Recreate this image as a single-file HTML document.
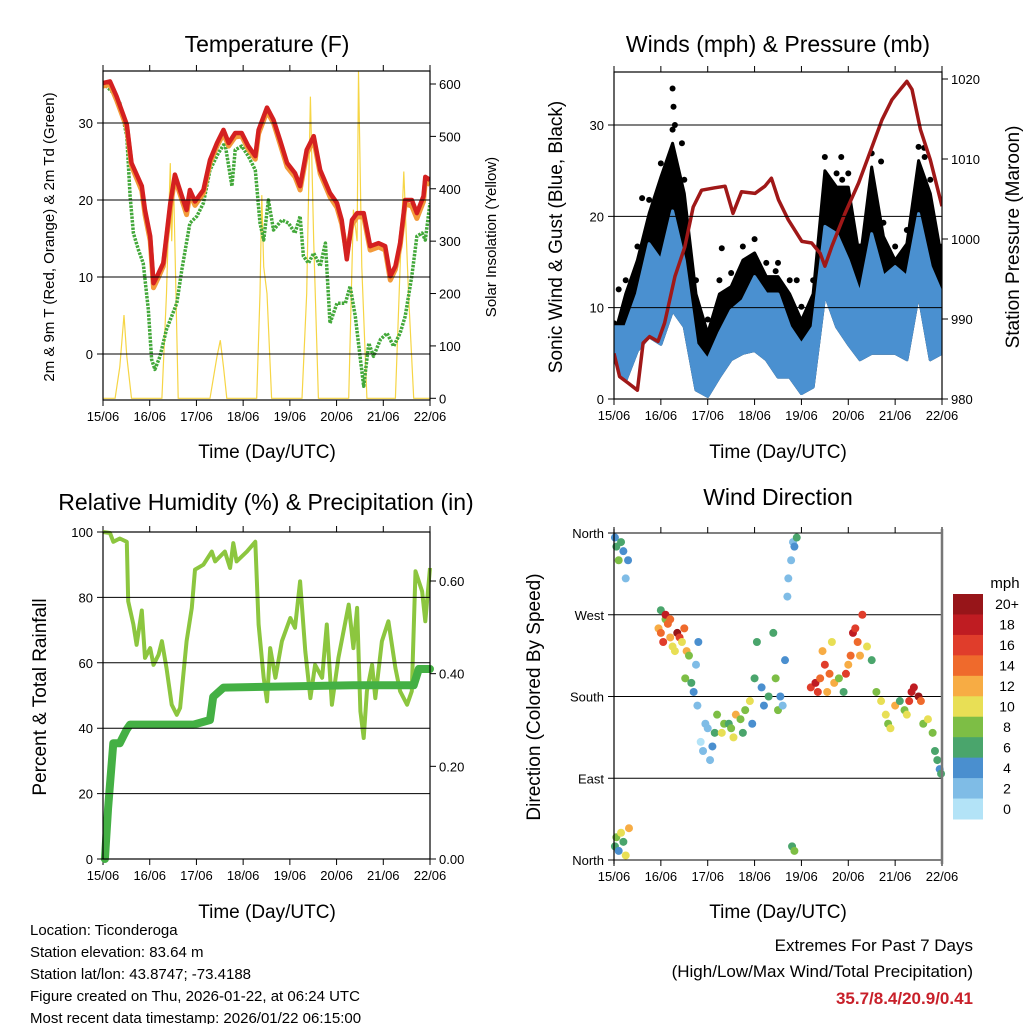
<!DOCTYPE html>
<html><head><meta charset="utf-8">
<style>
html,body{margin:0;padding:0;background:#fff;}
svg{display:block;font-family:"Liberation Sans",sans-serif;}
</style></head>
<body>
<svg id="fig" width="1024" height="1024" viewBox="0 0 1024 1024">
<rect width="1024" height="1024" fill="#fff"/>
<g id="layer"></g>
<text x="267" y="52" font-size="23" text-anchor="middle">Temperature (F)</text>
<text x="778" y="52" font-size="23" text-anchor="middle">Winds (mph) &amp; Pressure (mb)</text>
<text x="266" y="510" font-size="23" text-anchor="middle">Relative Humidity (%) &amp; Precipitation (in)</text>
<text x="778" y="505" font-size="23" text-anchor="middle">Wind Direction</text>
<text x="267" y="458" font-size="19" text-anchor="middle">Time (Day/UTC)</text>
<text x="778" y="458" font-size="19" text-anchor="middle">Time (Day/UTC)</text>
<text x="267" y="918" font-size="19" text-anchor="middle">Time (Day/UTC)</text>
<text x="778" y="918" font-size="19" text-anchor="middle">Time (Day/UTC)</text>
<text transform="translate(54,237) rotate(-90)" font-size="15" text-anchor="middle">2m &amp; 9m T (Red, Orange) &amp; 2m Td (Green)</text>
<text transform="translate(496,237) rotate(-90)" font-size="15" text-anchor="middle">Solar Insolation (Yellow)</text>
<text transform="translate(562,237) rotate(-90)" font-size="19" text-anchor="middle">Sonic Wind &amp; Gust (Blue, Black)</text>
<text transform="translate(1019,237) rotate(-90)" font-size="19" text-anchor="middle">Station Pressure (Maroon)</text>
<text transform="translate(46,697) rotate(-90)" font-size="19" text-anchor="middle">Percent &amp; Total Rainfall</text>
<text transform="translate(540,697) rotate(-90)" font-size="19" text-anchor="middle">Direction (Colored By Speed)</text>
<g font-size="15">
<text x="30" y="935">Location: Ticonderoga</text>
<text x="30" y="957">Station elevation: 83.64 m</text>
<text x="30" y="979">Station lat/lon: 43.8747; -73.4188</text>
<text x="30" y="1001">Figure created on Thu, 2026-01-22, at 06:24 UTC</text>
<text x="30" y="1023">Most recent data timestamp: 2026/01/22 06:15:00</text>
</g>
<g font-size="17" text-anchor="end">
<text x="973" y="951">Extremes For Past 7 Days</text>
<text x="973" y="977">(High/Low/Max Wind/Total Precipitation)</text>
<text x="973" y="1004" fill="#c8202a" font-weight="bold">35.7/8.4/20.9/0.41</text>
</g>
<text x="1005" y="588" font-size="15" text-anchor="middle">mph</text>
</svg>
<script>
// ---- data ----
const dayLabels=["15/06","16/06","17/06","18/06","19/06","20/06","21/06","22/06"];
const tempTimes=[0,.15,.29,.51,.61,.83,.9,1.01,1.08,1.19,1.29,1.44,1.54,1.69,1.79,1.86,1.97,2.15,2.29,2.44,2.58,2.69,2.83,2.97,3.11,3.26,3.33,3.51,3.65,3.79,3.94,4.11,4.22,4.36,4.51,4.65,4.86,5.01,5.11,5.22,5.33,5.44,5.58,5.72,5.9,6.04,6.15,6.26,6.36,6.47,6.61,6.72,6.86,6.9,7.0];
const temp2m=[35.2,35.4,33.5,29.8,24.8,21.8,18.7,15.3,9.2,10.5,11.8,19.6,23.3,20.5,18.7,21.3,19.8,21.3,25.2,27.4,29.1,27.4,28.7,28.7,27,25.7,29.1,32,30.4,27.8,24.8,23.5,21.8,26.5,28.3,23.9,20.9,19.6,17.4,12.3,17.4,18.3,18.3,14,14.4,14,10.1,11.4,14.4,20,20,18.3,20.5,23,22.6];
const temp9m=[34.8,35,33,29.4,24.4,21.2,18.1,14.7,8.6,10,11.4,19,22.8,20,18.1,20.8,19.3,20.9,24.8,27,28.6,27,28.2,28.3,26.6,25.3,28.6,31.5,30,27.3,24.3,23,21.3,26,27.8,23.4,20.4,19,16.9,13,16.8,17.8,17.8,13.5,13.9,13.5,9.6,11,14,19.5,19.2,17.6,19.8,22.4,22];
const dewTimes=[0,.22,.36,.51,.58,.65,.76,.86,.97,1.04,1.11,1.22,1.36,1.58,1.69,1.86,2.01,2.15,2.29,2.47,2.61,2.69,2.76,2.83,2.97,3.11,3.26,3.36,3.44,3.54,3.65,3.83,3.97,4.11,4.22,4.29,4.4,4.51,4.65,4.76,4.86,5.01,5.19,5.29,5.4,5.51,5.58,5.69,5.79,5.94,6.08,6.22,6.36,6.47,6.61,6.72,6.83,6.9,7.0];
const dewpt=[35.2,33.9,32.6,28.3,20.5,15.7,13.5,11.8,5.8,-0.7,-2,-0.3,3.2,6.6,11,17,17.9,19.6,23.9,26.1,27.4,24.4,21.8,26.5,27,25.7,23.9,17,14.8,20,16.1,17.4,17,15.7,17.9,12.7,11.8,13.1,11.4,14.4,4,6.6,6.6,8.8,4.9,-0.7,-4.2,1.4,-0.3,1.9,2.7,1,2.7,4.9,10.1,15.3,15.7,14.8,19.6];
const solarTimes=[0,.26,.36,.45,.51,.61,1.26,1.36,1.44,1.47,1.51,1.61,2.29,2.44,2.51,2.58,2.65,3.29,3.36,3.4,3.44,3.51,3.61,4.26,4.36,4.44,4.51,4.61,5.26,5.36,5.44,5.47,5.54,5.65,6.26,6.36,6.44,6.54,6.65,7.0];
const solar=[0,0,60,159,80,0,0,200,449,300,417,0,0,80,111,60,0,0,200,388,251,200,0,0,200,576,300,0,0,360,300,624,250,0,0,250,433,200,0,0];
const tempTicks=[0,10,20,30];
const solarTicks=[0,100,200,300,400,500,600];
const windTimes=[0,.25,.5,.75,1,1.25,1.5,1.75,2,2.25,2.5,2.75,3,3.25,3.5,3.75,4,4.25,4.5,4.75,5,5.25,5.5,5.75,6,6.25,6.5,6.75,7];
const windHigh=[7.9,7.9,11.5,17,15.2,20.6,15.2,6,4.3,7.2,9.7,10.8,13.4,11.5,11.5,7.9,6,7.9,18.9,18.1,15.2,11.5,18.1,13.4,14.5,13.4,20.3,14.5,11.5];
const windLow=[4.3,2,5.3,6.8,6,9.7,7.9,1,0.3,2.4,4.3,5,5.3,4.3,2.4,2.4,0.6,1.3,11.5,7.9,6,4.3,5,5,5,4.3,11.5,4.3,5];
const windGust=[6.8,11.5,15.2,20.3,24.3,28,22.5,11.5,7.2,11.5,12.3,15.2,16,13.4,13.4,11.5,8.6,11.5,25,23.2,23.2,15.2,25.4,17.8,15.2,17,26.1,22.5,15.2];
const gustPeakTimes=[1.25,1.27,1.3,1.1,1.45,0.6,4.85,4.87,5.7,6.62,6.63,6.66,2.3,2.95,3.45,0.1,3.9];
const gustPeaks=[34,32,30,25,28,22,26.5,24,26,27.5,26.5,23,16.5,14,14,12,13];
const pressTimes=[0,.12,.3,.5,.62,.76,.94,1.08,1.3,1.51,1.69,1.87,2.15,2.37,2.54,2.72,3.01,3.22,3.36,3.51,3.72,4.01,4.22,4.4,4.5,4.65,4.93,5.22,5.43,5.72,5.93,6.11,6.25,6.36,6.54,6.75,7.0];
const pressure=[985.7,982.8,982,981.1,987,987.8,987.2,989.5,995.3,999,1004,1006.1,1006.4,1006.6,1003.2,1005.9,1005.7,1006.6,1007.6,1004.9,1002.4,999.7,999.5,998.2,996.6,999.1,1003.2,1007,1010.3,1014.9,1017.4,1018.7,1019.7,1018.7,1013.7,1009.9,1004.1];
const windTicks=[0,10,20,30];
const pressTicks=[980,990,1000,1010,1020];
const rhTimes=[0,.15,.22,.36,.51,.54,.65,.72,.83,.9,1.01,1.08,1.19,1.26,1.36,1.47,1.58,1.65,1.79,1.9,1.97,2.15,2.33,2.4,2.61,2.72,2.79,2.86,3.08,3.26,3.33,3.44,3.51,3.58,3.69,3.83,4.01,4.11,4.22,4.33,4.44,4.54,4.69,4.79,4.9,5.04,5.26,5.36,5.44,5.51,5.58,5.65,5.76,5.83,5.97,6.11,6.26,6.36,6.51,6.61,6.69,6.83,6.9,7.0];
const rh=[100,99.7,97,98,97,78.8,71.7,65.5,76,61.5,64.5,59.4,62.5,66.6,58.4,47.2,44.1,46.2,66.6,76.8,88.5,90,94,91,94,89,96.6,91,94,97,71.7,55.4,48.2,64.5,55.4,66.6,73.7,70.7,84.9,63.5,49.2,59.4,55.4,71.7,47.2,61.5,77.8,64.5,76.8,45.2,37,51.3,59.4,49.2,66.6,72.7,58.4,51.3,47.2,51.3,88,81.9,72.7,89];
const precipTimes=[.04,.11,.22,.36,.51,.58,1.94,2.29,2.36,2.58,5.36,6.65,6.76,7.0];
const precipVals=[0,0.11,0.25,0.25,0.28,0.29,0.29,0.30,0.35,0.37,0.375,0.375,0.41,0.41];
const rhTicks=[0,20,40,60,80,100];
const precipTicks=[0,0.2,0.4,0.6];
const dirTicks=[0,90,180,270,360];
const dirNames=["North","East","South","West","North"];
const dirTimes=[0.02,0.05,0.1,0.15,0.2,0.25,0.3,0.02,0.05,0.1,0.15,0.2,0.25,0.32,0.95,1.0,1.05,1.1,1.15,1.2,1.25,1.3,1.0,1.1,1.2,1.35,1.4,1.45,1.5,1.55,1.6,1.52,1.65,1.7,1.75,1.8,1.78,1.85,1.9,1.95,2.0,2.05,2.1,2.15,2.2,2.3,2.35,2.45,2.5,2.55,2.6,2.7,2.75,2.8,2.9,2.95,3.0,3.05,3.15,3.2,3.3,3.4,3.45,3.5,3.55,3.6,3.65,3.7,3.72,3.78,3.82,3.85,3.9,3.8,3.85,4.2,4.3,4.35,4.4,4.45,4.5,4.55,4.6,4.65,4.7,4.8,4.9,4.95,5.0,5.05,5.1,5.15,5.2,5.25,5.3,5.4,5.5,5.6,5.7,5.8,5.85,5.9,6.0,6.1,6.2,6.25,6.3,6.35,6.4,6.5,6.55,6.6,6.7,6.8,6.85,6.9,6.95,6.98];
const dirValues=[355,345,330,350,340,310,330,15,25,10,30,20,5,35,255,250,240,265,260,245,235,230,275,270,265,250,245,240,255,230,225,200,195,185,215,240,170,130,120,150,145,110,125,140,160,140,150,150,145,135,160,155,140,165,175,150,200,240,190,170,180,250,200,165,180,170,220,290,310,330,350,345,355,15,10,190,195,185,200,230,215,185,205,240,195,200,185,205,215,225,250,255,240,225,270,235,220,185,175,160,150,145,170,175,165,160,175,185,190,180,175,150,155,140,120,110,100,95,85];
const dirSpeeds=[4,6,8,5,3,2,4,6,8,4,10,6,9,12,12,14,16,8,13,11,9,10,6,18,14,19,16,10,14,12,8,7,6,4,2,3,1,0,2,2,1,2,4,6,8,10,8,6,8,9,12,7,6,8,9,4,5,6,3,4,5,6,7,8,4,2,4,2,2,2,2,3,6,6,8,16,18,15,14,12,16,12,13,10,11,8,6,15,12,14,17,16,13,12,16,10,6,8,9,10,8,10,12,6,8,10,16,18,17,19,14,8,9,8,6,5,4,6,4];
const speedBins=["0","2","4","6","8","10","12","14","16","18","20+"];
const speedColors=["#b3e3f7","#7fbce6","#4a8fcf","#4aa56c","#7dbe45","#e8df55","#f7ac44","#ef6a2c","#e03d2b","#bf1c22","#971519"];

// ---- helpers ----
const NS="http://www.w3.org/2000/svg";
const layer=document.getElementById('layer');
function add(tag,attrs,parent){const e=document.createElementNS(NS,tag);for(const k in attrs)e.setAttribute(k,attrs[k]);(parent||layer).appendChild(e);return e;}
function lin(d0,d1,r0,r1){return v=>r0+(v-d0)*(r1-r0)/(d1-d0);}
function pts(xs,ys,fx,fy){return xs.map((x,i)=>fx(x).toFixed(1)+','+fy(ys[i]).toFixed(1)).join(' ');}

const panels=[
 {id:'temp',x0:103,x1:430,y0:71,y1:400},
 {id:'wind',x0:614,x1:942,y0:72,y1:399},
 {id:'rh',x0:103,x1:430,y0:532,y1:859},
 {id:'dir',x0:614,x1:942,y0:533,y1:860}
];
function frame(p){
 const g=add('g',{});
 
 
 const fx=lin(0,7,p.x0,p.x1);
 dayLabels.forEach((lab,i)=>{
  const t=add('text',{x:fx(i),y:p.y1+21,'font-size':13,'text-anchor':'middle'},g);
  t.textContent=lab;
  
  
  const tk=add('line',{x1:fx(i),x2:fx(i),y1:p.y1,y2:p.y1+6,stroke:'#000','stroke-width':1},g);
  
  
  const tt=add('line',{x1:fx(i),x2:fx(i),y1:p.y0,y2:p.y0-6,stroke:'#000','stroke-width':1},g);
  
  
 });
 return fx;
}
function border(p){
 const r=add('rect',{x:p.x0,y:p.y0,width:p.x1-p.x0,height:p.y1-p.y0,fill:'none',stroke:'#000','stroke-width':1.2});
 
 
}
function leftAxis(p,ticks,fy,labels){
 ticks.forEach((v,i)=>{
  const gl=add('line',{x1:p.x0-6,x2:p.x1,y1:fy(v),y2:fy(v),stroke:'#000','stroke-width':1});
  
  
  const t=add('text',{x:p.x0-10,y:fy(v)+5,'font-size':13,'text-anchor':'end'});
  t.textContent=labels?labels[i]:v;
  
  
 });
}
function rightAxis(p,ticks,fy,fmt){
 ticks.forEach(v=>{
  const tk=add('line',{x1:p.x1,x2:p.x1+6,y1:fy(v),y2:fy(v),stroke:'#000','stroke-width':1});
  
  
  const t=add('text',{x:p.x1+9,y:fy(v)+5,'font-size':13});
  t.textContent=fmt?fmt(v):v;
  
  
 });
}

// ---- Panel 1: temperature ----
(function(){
 const p=panels[0];
 const fx=frame(p);
 const fy=lin(0,30,354,123);
 const fs=lin(0,600,398.3,84);
 const clip=add('clipPath',{id:'c1'});add('rect',{x:p.x0,y:p.y0,width:p.x1-p.x0,height:p.y1-p.y0},clip);
 const g=add('g',{'clip-path':'url(#c1)'});
 
 
 const s=add('polyline',{points:pts(solarTimes,solar,fx,fs),fill:'none',stroke:'#f6d545','stroke-width':1.2},g);
 
 
 const d=add('polyline',{points:pts(dewTimes,dewpt,fx,fy),fill:'none',stroke:'#43a83a','stroke-width':3.5,'stroke-dasharray':'2.5 1.2','stroke-linejoin':'round'},g);
 
 
 const o=add('polyline',{points:pts(tempTimes,temp9m,fx,fy),fill:'none',stroke:'#f39a3a','stroke-width':5,'stroke-linejoin':'round'},g);
 
 
 const r=add('polyline',{points:pts(tempTimes,temp2m,fx,fy),fill:'none',stroke:'#d42020','stroke-width':4.5,'stroke-linejoin':'round'},g);
 
 
 leftAxis(p,tempTicks,fy);
 rightAxis(p,solarTicks,fs);
 border(p);
})();

// ---- Panel 2: winds ----
(function(){
 const p=panels[1];
 const fx=frame(p);
 const fy=lin(0,30,399,125);
 const fp=lin(980,1020,399,79);
 const clip=add('clipPath',{id:'c2'});add('rect',{x:p.x0,y:p.y0,width:p.x1-p.x0,height:p.y1-p.y0},clip);
 const g=add('g',{'clip-path':'url(#c2)'});
 
 
 const band=pts(windTimes,windGust,fx,fy)+' '+pts(windTimes.slice().reverse(),windLow.slice().reverse(),fx,fy);
 const b=add('polygon',{points:band,fill:'#000',stroke:'#000','stroke-width':3,'stroke-linejoin':'round'},g);
 
 
 windTimes.forEach((t,i)=>{
  const c=add('circle',{cx:fx(t),cy:fy(windGust[i]+1.5),r:3,fill:'#000'},g);
  
  
 });
 gustPeakTimes.forEach((t,i)=>{
  const c=add('circle',{cx:fx(t),cy:fy(gustPeaks[i]),r:3,fill:'#000'},g);
  
  
 });
 const wb=pts(windTimes,windHigh,fx,fy)+' '+pts(windTimes.slice().reverse(),windLow.slice().reverse(),fx,fy);
 const m=add('polygon',{points:wb,fill:'#4a90d0',stroke:'#4a90d0','stroke-width':3,'stroke-linejoin':'round'},g);
 
 
 const pr=add('polyline',{points:pts(pressTimes,pressure,fx,fp),fill:'none',stroke:'#a01818','stroke-width':3.5,'stroke-linejoin':'round'},g);
 
 
 leftAxis(p,windTicks,fy);
 rightAxis(p,pressTicks,fp);
 border(p);
})();

// ---- Panel 3: RH ----
(function(){
 const p=panels[2];
 const fx=frame(p);
 const fy=lin(0,100,859,532);
 const fp=lin(0,0.6,859,581);
 const g=add('g',{});
 
 
 const rl=add('polyline',{points:pts(rhTimes,rh,fx,fy),fill:'none',stroke:'#8cc63f','stroke-width':4,'stroke-linejoin':'round'},g);
 
 
 const pl=add('polyline',{points:pts(precipTimes,precipVals,fx,fp),fill:'none',stroke:'#44b044','stroke-width':8,'stroke-linejoin':'round','stroke-linecap':'round'},g);
 
 
 leftAxis(p,rhTicks,fy);
 rightAxis(p,precipTicks,fp,v=>v.toFixed(2));
 border(p);
})();

// ---- Panel 4: direction ----
(function(){
 const p=panels[3];
 const fx=frame(p);
 const fy=lin(0,360,860,533);
 leftAxis(p,dirTicks,fy,dirNames);
 const g=add('g',{});
 
 
 dirTimes.forEach((t,i)=>{
  const bin=Math.min(10,Math.max(0,Math.round(dirSpeeds[i]/2)));
  const c=add('circle',{cx:fx(t),cy:fy(dirValues[i]),r:4,fill:speedColors[bin]},g);
  
  
 });
 const r=add('line',{x1:p.x1,x2:p.x1,y1:p.y0-4,y2:p.y1+4,stroke:'#777','stroke-width':2.5});
 
 
 const l=add('line',{x1:p.x0,x2:p.x0,y1:p.y0-4,y2:p.y1+4,stroke:'#000','stroke-width':1.2});
 
 
 const cb=add('g',{});
 
 
 const h=(819-594)/speedBins.length;
 speedBins.forEach((lab,i)=>{
  const k=speedBins.length-1-i;
  const rc=add('rect',{x:953,y:594+i*h,width:30,height:h+0.5,fill:speedColors[k]},cb);
  
  
  const t=add('text',{x:1007,y:594+i*h+h/2+5,'font-size':14,'text-anchor':'middle'},cb);
  t.textContent=speedBins[k];
  
  
 });
})();
</script>
</body></html>
